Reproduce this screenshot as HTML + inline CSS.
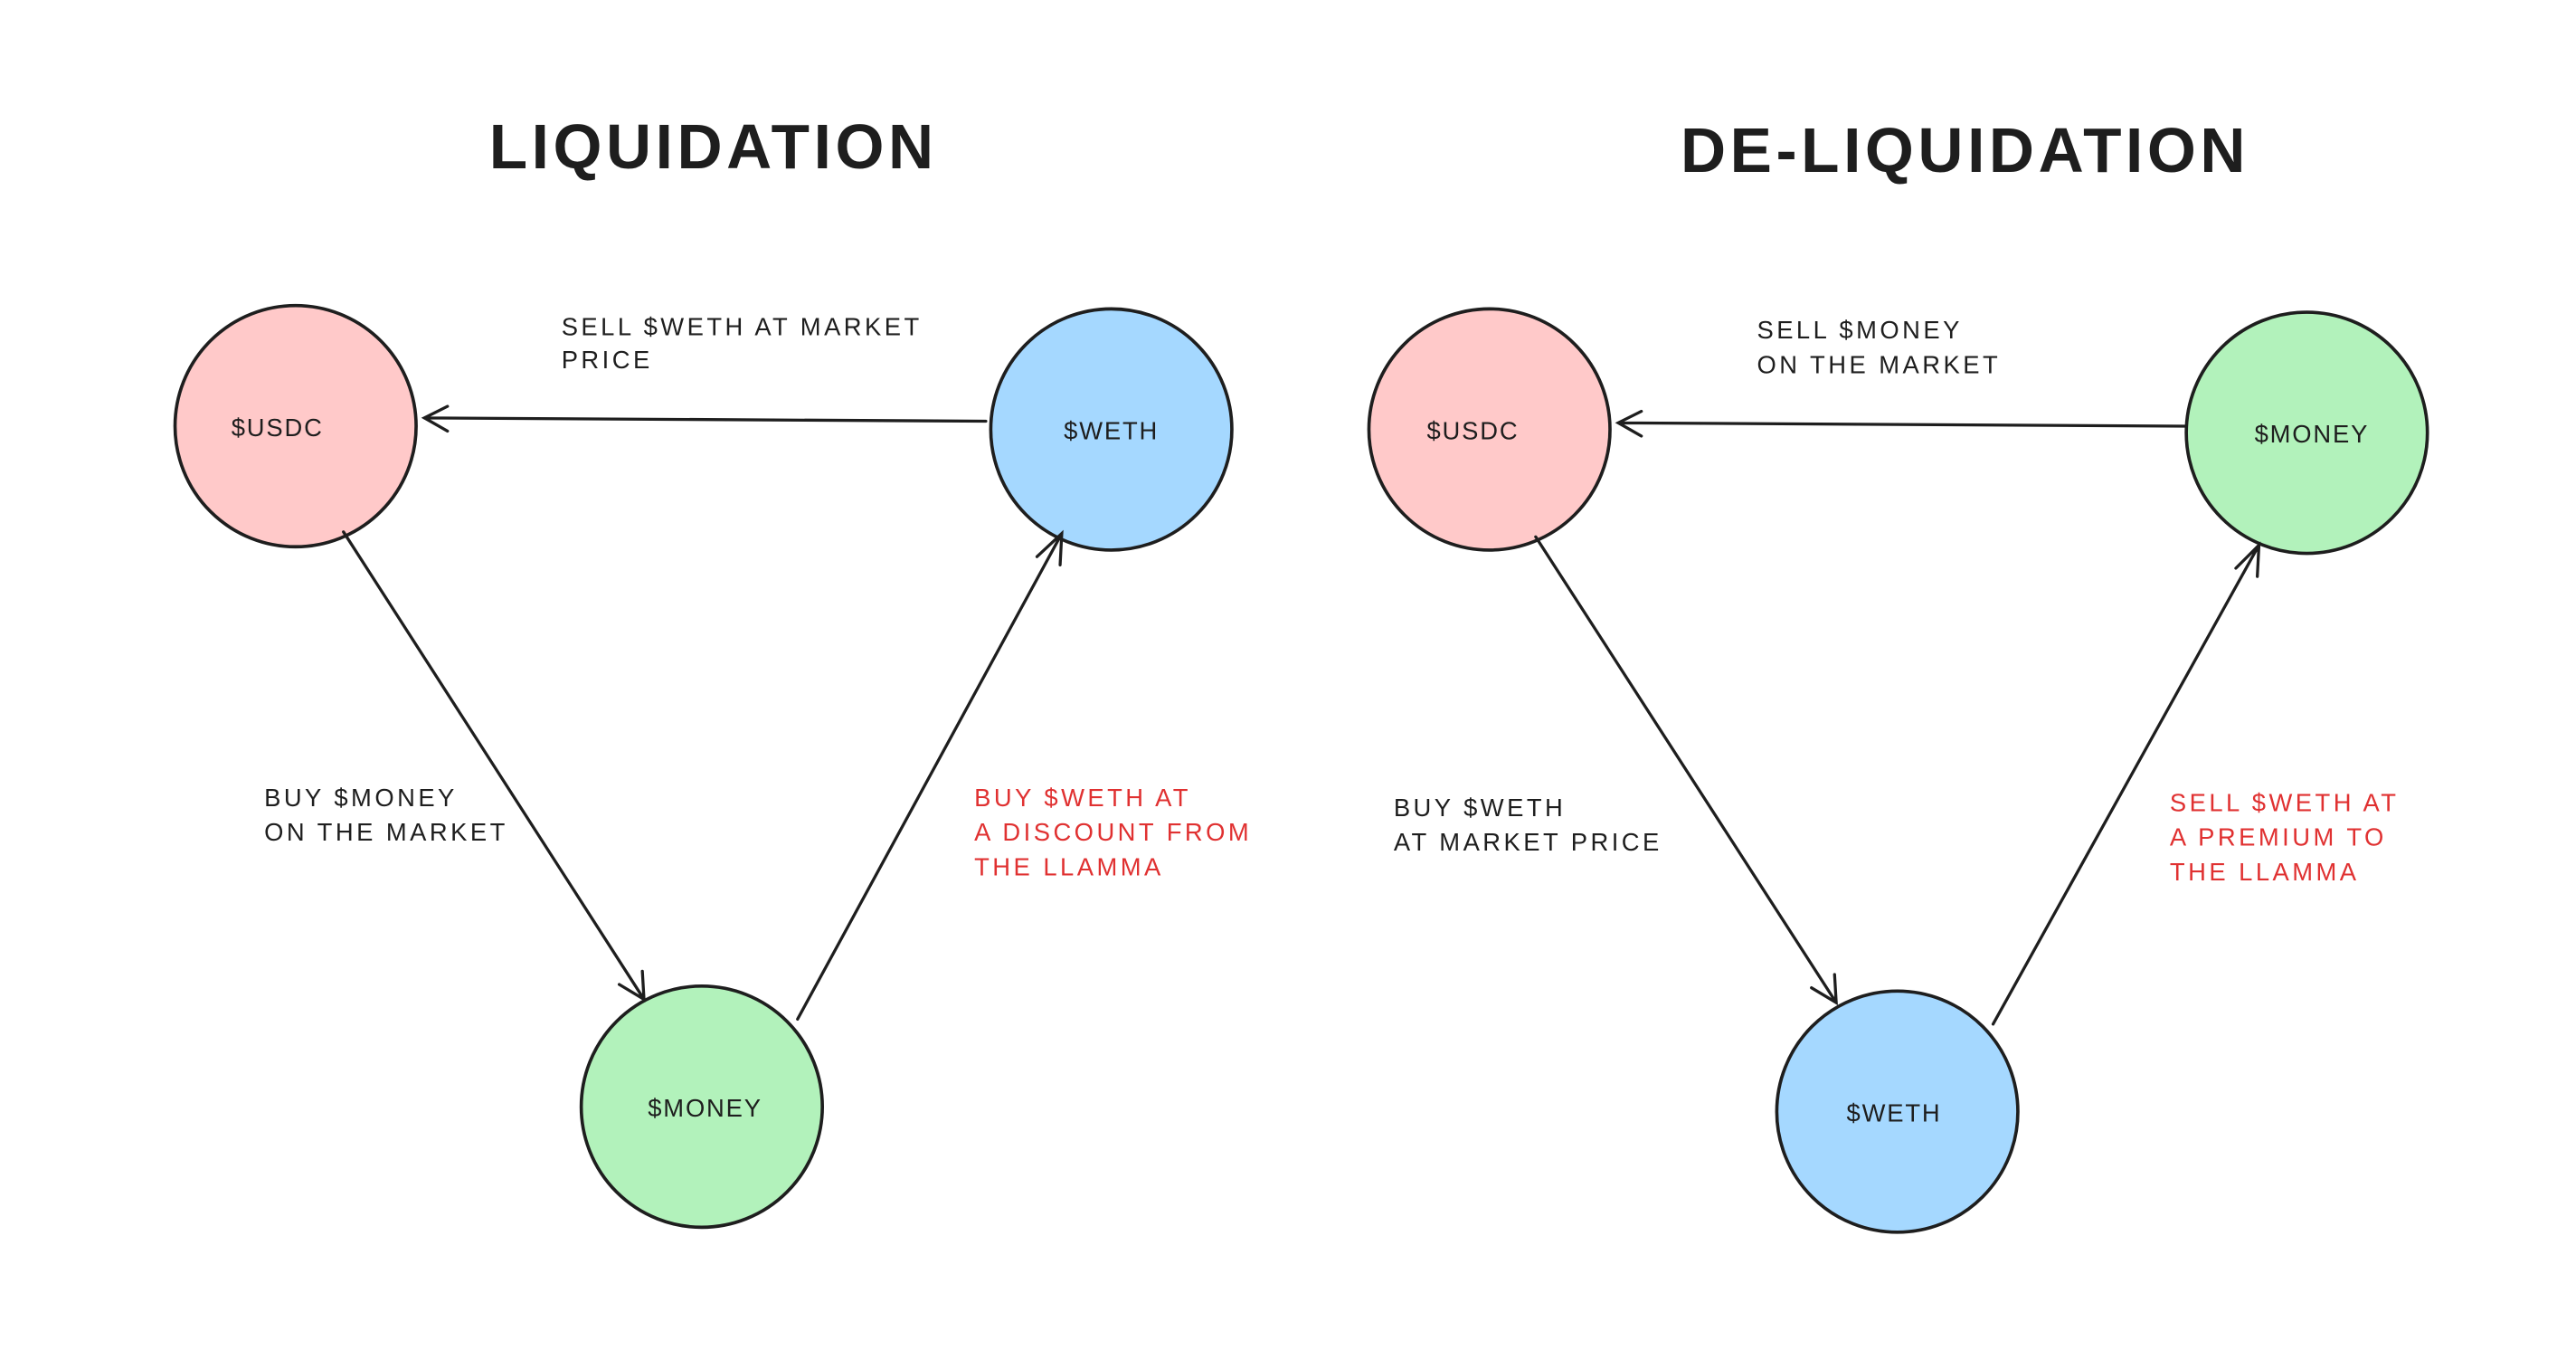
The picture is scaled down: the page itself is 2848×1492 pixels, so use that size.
<!DOCTYPE html>
<html><head><meta charset="utf-8"><style>
html,body{margin:0;padding:0;background:#fff;}
svg{display:block;}
text{font-family:"Liberation Sans",sans-serif;}
.lbl{font-size:15px;fill:#1e1e1e;letter-spacing:1.9px;}
.red{fill:#e03131;}
.ttl{font-size:38px;font-weight:bold;fill:#1e1e1e;letter-spacing:2.5px;}
.nd{font-size:15px;fill:#1e1e1e;text-anchor:middle;letter-spacing:1px;}
</style></head><body>
<svg width="2848" height="1492" viewBox="0 0 1560 817.3" preserveAspectRatio="none" xmlns="http://www.w3.org/2000/svg">
<rect width="1560" height="818" fill="#fff"/>
<g stroke="#1e1e1e" stroke-width="2">
<circle cx="179" cy="258" r="73" fill="#ffc9c9"/>
<circle cx="673" cy="260" r="73" fill="#a5d8ff"/>
<circle cx="425" cy="670" r="73" fill="#b2f2bb"/>
<circle cx="902" cy="260" r="73" fill="#ffc9c9"/>
<circle cx="1397" cy="262" r="73" fill="#b2f2bb"/>
<circle cx="1149" cy="673" r="73" fill="#a5d8ff"/>
</g>
<g stroke="#1e1e1e" stroke-width="1.8" fill="none" stroke-linecap="round">
<path d="M597 255 L257 253 M271 246 L257 253 L271 261"/>
<path d="M208 322 L390 605 M375 596 L390 605 L389 588"/>
<path d="M483 617 L643 323 M628 337 L643 323 L642 342"/>
<path d="M1323 258 L980 256 M994 249 L980 256 L994 264"/>
<path d="M930 325 L1112 607 M1097 598 L1112 607 L1111 590"/>
<path d="M1207 620 L1368 330 M1354 344 L1368 330 L1367 349"/>
</g>
<text class="ttl" x="432" y="102" text-anchor="middle">LIQUIDATION</text>
<text class="ttl" x="1190" y="104" text-anchor="middle">DE-LIQUIDATION</text>
<text class="nd" x="168" y="264">$USDC</text>
<text class="nd" x="673" y="266">$WETH</text>
<text class="nd" x="427" y="676">$MONEY</text>
<text class="nd" x="892" y="266">$USDC</text>
<text class="nd" x="1400" y="268">$MONEY</text>
<text class="nd" x="1147" y="679">$WETH</text>
<text class="lbl" x="340" y="203">SELL $WETH AT MARKET</text>
<text class="lbl" x="340" y="223">PRICE</text>
<text class="lbl" x="160" y="488">BUY $MONEY</text>
<text class="lbl" x="160" y="509">ON THE MARKET</text>
<text class="lbl red" x="590" y="488">BUY $WETH AT</text>
<text class="lbl red" x="590" y="509">A DISCOUNT FROM</text>
<text class="lbl red" x="590" y="530">THE LLAMMA</text>
<text class="lbl" x="1064" y="205">SELL $MONEY</text>
<text class="lbl" x="1064" y="226">ON THE MARKET</text>
<text class="lbl" x="844" y="494">BUY $WETH</text>
<text class="lbl" x="844" y="515">AT MARKET PRICE</text>
<text class="lbl red" x="1314" y="491">SELL $WETH AT</text>
<text class="lbl red" x="1314" y="512">A PREMIUM TO</text>
<text class="lbl red" x="1314" y="533">THE LLAMMA</text>
</svg>
</body></html>
